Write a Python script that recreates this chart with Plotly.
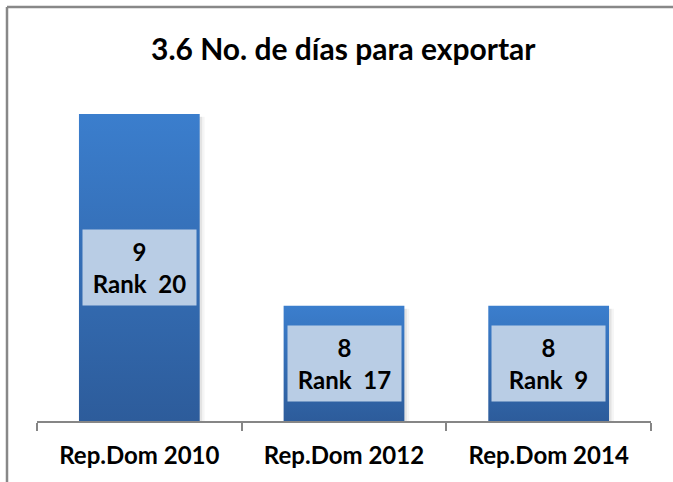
import plotly.graph_objects as go

# Chart data
categories = ["Rep.Dom 2010", "Rep.Dom 2012", "Rep.Dom 2014"]
dias = [9, 8, 8]
ranks = [20, 17, 9]
title_text = "3.6 No. de días para exportar"

Y_MIN, Y_MAX = 7.4, 9.5
BAR_W = 0.59
TOP_COLOR = "#3b7ecd"
BOTTOM_COLOR = "#2d5c9b"
FONT = "Lato"

fig = go.Figure()

# Bars drawn as filled rectangles so each can carry a vertical gradient
for i, (cat, v) in enumerate(zip(categories, dias)):
    x0, x1 = i - BAR_W / 2, i + BAR_W / 2
    # soft shadow on the right edge
    for k, a in enumerate([0.07, 0.04]):
        off = 0.012 * (k + 1)
        fig.add_trace(go.Scatter(
            x=[x0 + off, x1 + off, x1 + off, x0 + off, x0 + off],
            y=[Y_MIN, Y_MIN, v - 0.015, v - 0.015, Y_MIN],
            mode="lines", fill="toself", line=dict(width=0),
            fillcolor=f"rgba(0,0,0,{a})", hoverinfo="skip", showlegend=False,
        ))
    fig.add_trace(go.Scatter(
        x=[x0, x1, x1, x0, x0],
        y=[Y_MIN, Y_MIN, v, v, Y_MIN],
        mode="lines", fill="toself", line=dict(width=0),
        fillgradient=dict(type="vertical",
                          colorscale=[[0, BOTTOM_COLOR], [1, TOP_COLOR]]),
        name=cat, showlegend=False, hoverinfo="skip",
    ))
    # value / rank label box at the middle of the bar
    fig.add_annotation(
        x=i, y=(Y_MIN + v) / 2, xref="x", yref="y",
        text=f"<b>{v}<br>Rank  {ranks[i]}</b>",
        showarrow=False, bgcolor="#b9cde5",
        width=111, height=73, align="center", valign="middle",
        font=dict(family=FONT, size=24, color="#000000"),
    )

fig.update_layout(
    width=673, height=482,
    margin=dict(l=37, r=22, t=18, b=61),
    paper_bgcolor="white", plot_bgcolor="white",
    title=dict(text=f"<b>{title_text}</b>", x=0.51, xanchor="center",
               y=0.897, yanchor="middle",
               font=dict(family=FONT, size=30, color="#000000")),
    xaxis=dict(
        range=[-0.5, 2.5], tickvals=[0, 1, 2],
        ticktext=[f"<b>{c}</b>" for c in categories],
        ticks="", showgrid=False, zeroline=False,
        showline=True, linecolor="#868686", linewidth=2,
        tickfont=dict(family=FONT, size=24, color="#000000"),
        ticklabelstandoff=12,
        minor=dict(tick0=-0.5, dtick=1, ticks="outside", ticklen=8,
                   tickwidth=2, tickcolor="#868686", showgrid=False),
    ),
    yaxis=dict(range=[Y_MIN, Y_MAX], visible=False, showgrid=False),
)

# Outer frame (left and top edges visible)
fig.add_shape(type="line", xref="paper", yref="paper",
              x0=-30 / 614, x1=-30 / 614, y0=-61 / 403, y1=(403 + 11) / 403,
              line=dict(color="#888888", width=2.5), layer="above")
fig.add_shape(type="line", xref="paper", yref="paper",
              x0=-30 / 614, x1=(614 + 22) / 614, y0=(403 + 11) / 403, y1=(403 + 11) / 403,
              line=dict(color="#888888", width=2.5), layer="above")

fig.write_html("out.html")
